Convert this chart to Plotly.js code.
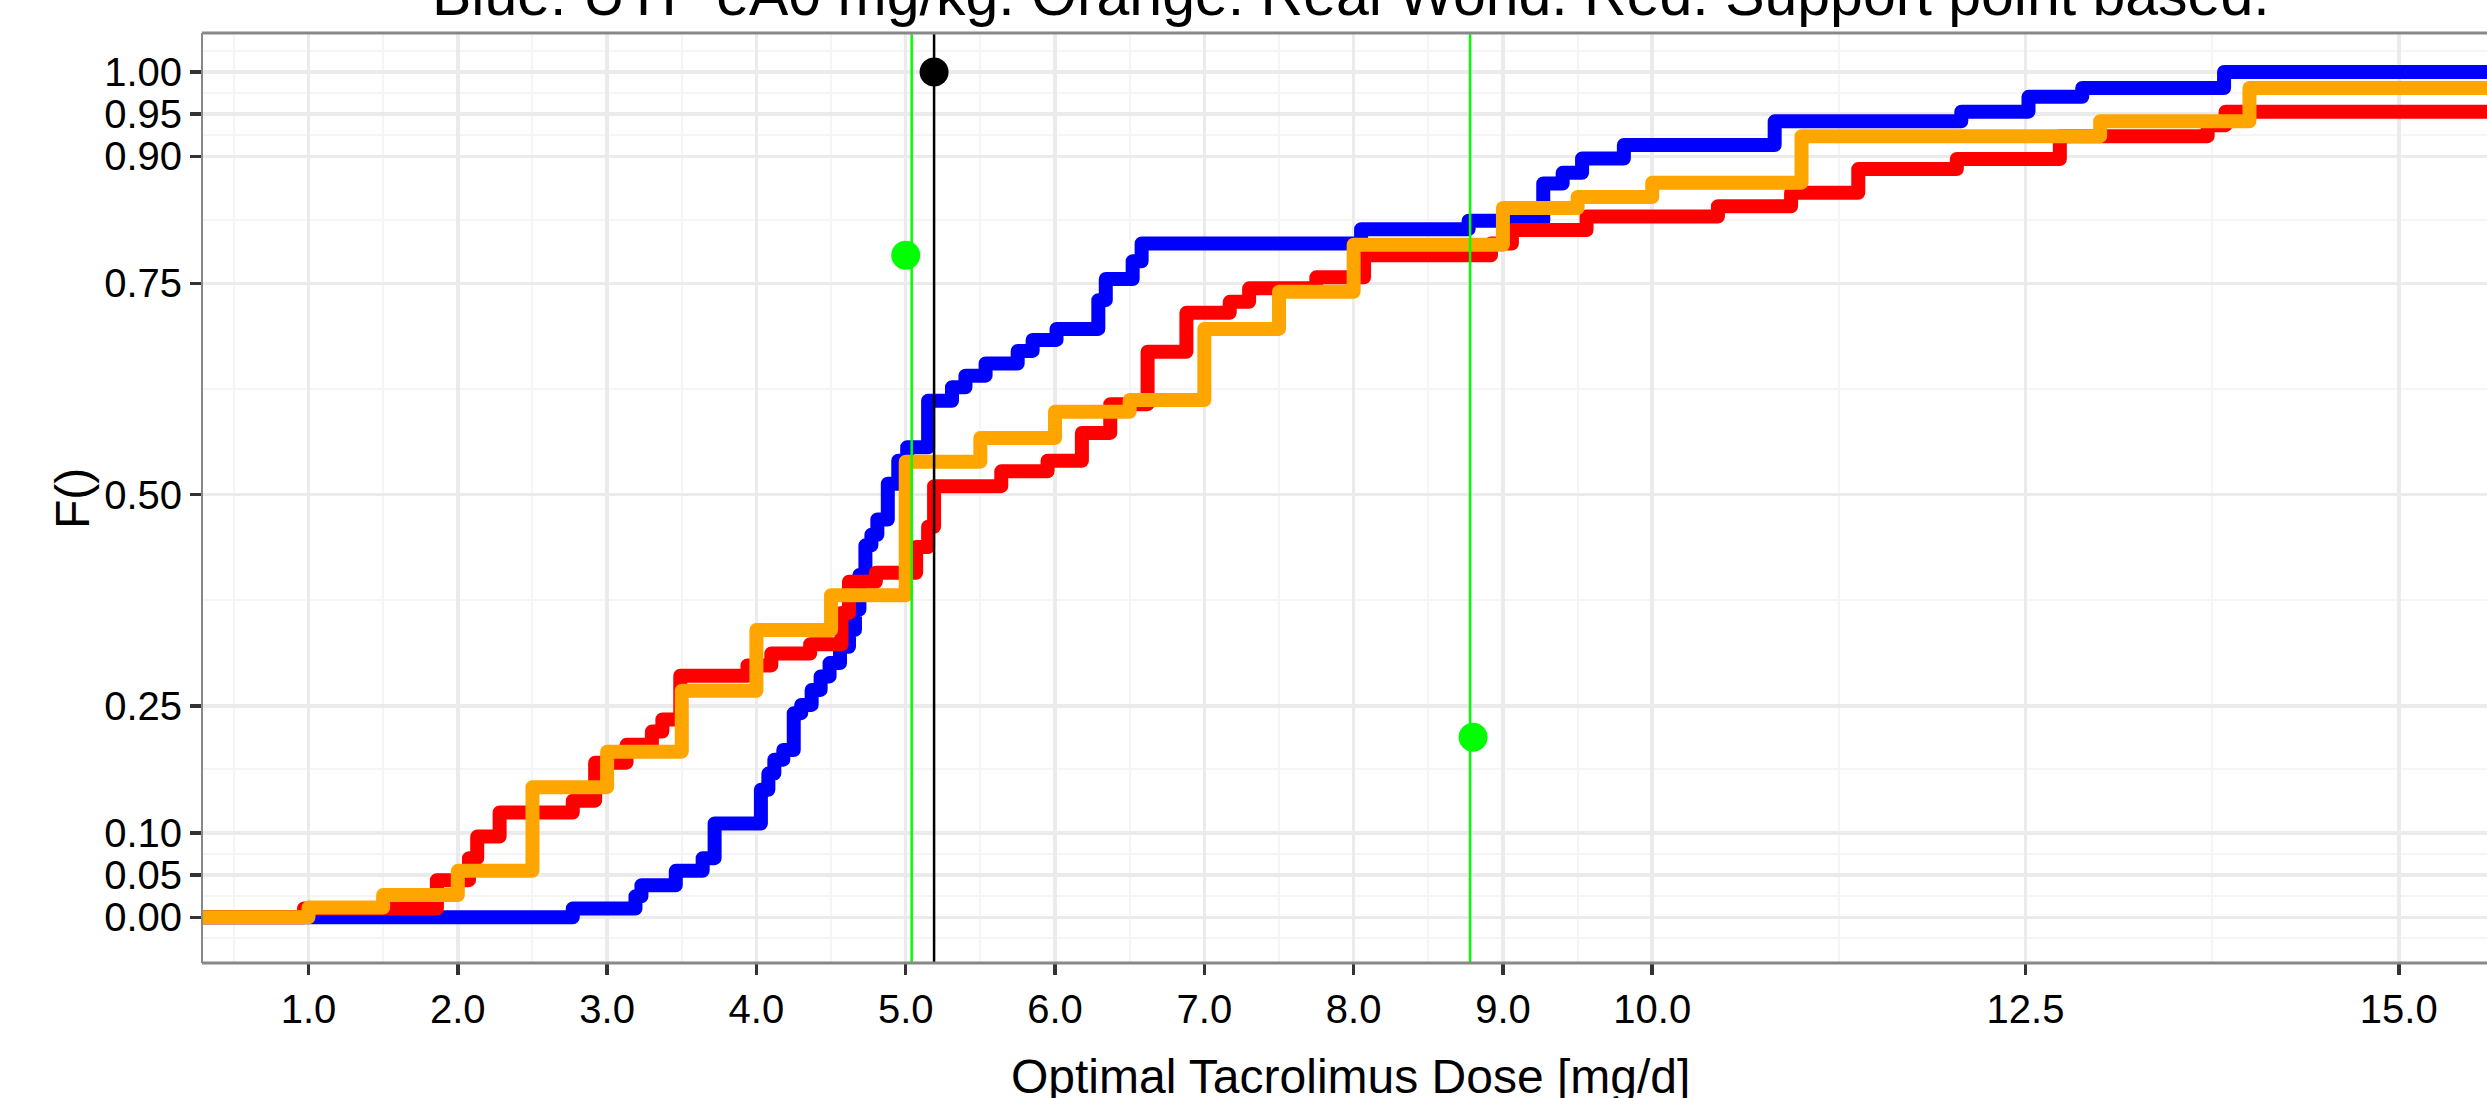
<!DOCTYPE html>
<html>
<head>
<meta charset="utf-8">
<script src="https://cdn.plot.ly/plotly-3.0.1.min.js"></script>
<style>
html,body{margin:0;padding:0;background:#fff;}
#chart{width:2487px;height:1098px;}
.js-line{stroke-linejoin:round;}
</style>
</head>
<body>
<div id="chart"></div>
<script>
// ---- data ----
const blueX = [0, 2.77, 3.19, 3.23, 3.46, 3.64, 3.72, 4.03, 4.08, 4.12, 4.18, 4.25, 4.30, 4.37, 4.43, 4.49, 4.56, 4.62, 4.66, 4.69, 4.73, 4.77, 4.81, 4.88, 4.95, 5.01, 5.15, 5.31, 5.40, 5.535, 5.75, 5.85, 6.01, 6.29, 6.34, 6.52, 6.58, 8.05, 8.77, 9.27, 9.40, 9.53, 9.81, 10.82, 12.07, 12.52, 12.88, 13.83, 16.5];
const blueY = [0, 0.0105, 0.025, 0.038, 0.055, 0.070, 0.111, 0.151, 0.170, 0.1865, 0.198, 0.2415, 0.2513, 0.269, 0.285, 0.3007, 0.320, 0.340, 0.364, 0.405, 0.440, 0.4525, 0.4705, 0.513, 0.540, 0.556, 0.611, 0.627, 0.6407, 0.655, 0.670, 0.683, 0.696, 0.730, 0.755, 0.776, 0.797, 0.814, 0.824, 0.868, 0.8806, 0.8975, 0.9135, 0.9415, 0.953, 0.9705, 0.981, 1.0, 1.0];

const redX = [0, 0.97, 1.86, 2.075, 2.13, 2.28, 2.77, 2.92, 3.13, 3.30, 3.37, 3.49, 3.94, 4.10, 4.36, 4.57, 4.62, 4.80, 5.07, 5.15, 5.19, 5.64, 5.95, 6.18, 6.37, 6.62, 6.88, 7.17, 7.30, 7.75, 8.07, 8.92, 9.06, 9.56, 10.44, 10.93, 11.38, 12.04, 12.73, 13.72, 13.84, 16.5];
const redY = [0, 0.0105, 0.044, 0.070, 0.0955, 0.124, 0.138, 0.183, 0.204, 0.2197, 0.234, 0.2857, 0.298, 0.312, 0.323, 0.36, 0.397, 0.4076, 0.438, 0.462, 0.510, 0.5275, 0.540, 0.573, 0.607, 0.669, 0.715, 0.728, 0.744, 0.757, 0.783, 0.797, 0.813, 0.829, 0.841, 0.857, 0.885, 0.897, 0.924, 0.937, 0.953, 0.953];

const orangeX = [0, 1, 1.5, 2, 2.5, 3, 3.5, 4, 4.5, 5, 5.5, 6, 6.5, 7, 7.5, 8, 9, 9.5, 10, 11, 13, 14, 16.5];
const orangeY = [0, 0.0115, 0.0265, 0.055, 0.154, 0.196, 0.268, 0.340, 0.381, 0.539, 0.567, 0.598, 0.612, 0.696, 0.740, 0.7955, 0.839, 0.852, 0.869, 0.924, 0.9417, 0.981, 0.981];

const greenLineX = [5.04, 8.78];
const blackLineX = [5.19];
const greenPtX = [5.0, 8.8];
const greenPtY = [0.783, 0.213];
const blackPtX = [5.19];
const blackPtY = [1.0];

const xTickVals = [1, 2, 3, 4, 5, 6, 7, 8, 9, 10, 12.5, 15];
const xTickText = ["1.0", "2.0", "3.0", "4.0", "5.0", "6.0", "7.0", "8.0", "9.0", "10.0", "12.5", "15.0"];
const xMinorVals = [0.5, 1.5, 2.5, 3.5, 4.5, 5.5, 6.5, 7.5, 8.5, 9.5, 11.25, 13.75];
const yTickVals = [0, 0.05, 0.1, 0.25, 0.5, 0.75, 0.9, 0.95, 1.0];
const yTickText = ["0.00", "0.05", "0.10", "0.25", "0.50", "0.75", "0.90", "0.95", "1.00"];
const yMinorVals = [-0.025, 0.025, 0.075, 0.175, 0.375, 0.625, 0.825, 0.925, 0.975, 1.025];

const titleText = "Blue: UTP eA0 mg/kg. Orange: Real World. Red: Support point based.";
const xTitle = "Optimal Tacrolimus Dose [mg/d]";
const yTitle = "F()";

// ---- styling ----
const FONT = "Liberation Sans, Arial, Helvetica, sans-serif";
const LW = 14;

function stepTrace(x, y, color) {
  return {x: x, y: y, type: 'scatter', mode: 'lines',
          line: {color: color, width: LW, shape: 'hv'},
          hoverinfo: 'skip', showlegend: false};
}

const traces = [
  stepTrace(blueX, blueY, '#0000FF'),
  stepTrace(redX, redY, '#FF0000'),
  stepTrace(orangeX, orangeY, '#FFA500'),
  {x: greenPtX, y: greenPtY, type: 'scatter', mode: 'markers',
   marker: {color: '#00FF00', size: 29}, showlegend: false, hoverinfo: 'skip'},
  {x: blackPtX, y: blackPtY, type: 'scatter', mode: 'markers',
   marker: {color: '#000000', size: 29}, showlegend: false, hoverinfo: 'skip'}
];

const shapes = [];
greenLineX.forEach(v => shapes.push({type: 'line', xref: 'x', yref: 'paper', x0: v, x1: v, y0: 0, y1: 1,
  line: {color: '#00FF00', width: 2.5}, layer: 'above'}));
blackLineX.forEach(v => shapes.push({type: 'line', xref: 'x', yref: 'paper', x0: v, x1: v, y0: 0, y1: 1,
  line: {color: '#000000', width: 2.5}, layer: 'above'}));
// panel border (top, bottom, left)
shapes.push({type: 'line', xref: 'paper', yref: 'paper', x0: 0, x1: 1, y0: 1, y1: 1, line: {color: '#888888', width: 3}, layer: 'above'});
shapes.push({type: 'line', xref: 'paper', yref: 'paper', x0: 0, x1: 1, y0: 0, y1: 0, line: {color: '#888888', width: 3}, layer: 'above'});
shapes.push({type: 'line', xref: 'paper', yref: 'paper', x0: 0, x1: 0, y0: 0, y1: 1, line: {color: '#888888', width: 2}, layer: 'above'});

const layout = {
  width: 2487, height: 1098,
  margin: {l: 202, r: 0, t: 33, b: 135, pad: 0},
  paper_bgcolor: '#FFFFFF', plot_bgcolor: '#FFFFFF',
  font: {family: FONT, color: '#000000', size: 40},
  showlegend: false,
  xaxis: {
    range: [0.2867, 15.591], autorange: false,
    tickmode: 'array', tickvals: xTickVals, ticktext: xTickText,
    ticks: 'outside', ticklen: 11, tickwidth: 3.5, tickcolor: '#333333',
    tickfont: {family: FONT, size: 40, color: '#000000'},
    showgrid: true, gridcolor: '#EBEBEB', gridwidth: 3.5,
    minor: {tickmode: 'array', tickvals: xMinorVals, showgrid: true, gridcolor: '#F5F5F5', gridwidth: 2, ticks: ''},
    zeroline: false, showline: false, automargin: false
  },
  yaxis: {
    range: [-0.054, 1.046], autorange: false,
    tickmode: 'array', tickvals: yTickVals, ticktext: yTickText,
    ticks: 'outside', ticklen: 11, tickwidth: 3.5, tickcolor: '#333333',
    tickfont: {family: FONT, size: 40, color: '#000000'},
    showgrid: true, gridcolor: '#EBEBEB', gridwidth: 3.5,
    minor: {tickmode: 'array', tickvals: yMinorVals, showgrid: true, gridcolor: '#F5F5F5', gridwidth: 2, ticks: ''},
    zeroline: false, showline: false, automargin: false
  },
  shapes: shapes,
  annotations: [
    {text: titleText, xref: 'paper', yref: 'paper', x: 0.5028, y: 1.0409, xanchor: 'center', yanchor: 'middle',
     showarrow: false, font: {family: FONT, size: 59, color: '#000000'}},
    {text: xTitle, xref: 'paper', yref: 'paper', x: 0.5028, y: -0.122, xanchor: 'center', yanchor: 'middle',
     showarrow: false, font: {family: FONT, size: 48, color: '#000000'}},
    {text: yTitle, xref: 'paper', yref: 'paper', x: -0.0569, y: 0.5, xanchor: 'center', yanchor: 'middle',
     textangle: -90, showarrow: false, font: {family: FONT, size: 48, color: '#000000'}}
  ]
};

Plotly.newPlot('chart', traces, layout, {staticPlot: true, displayModeBar: false});
</script>
</body>
</html>
